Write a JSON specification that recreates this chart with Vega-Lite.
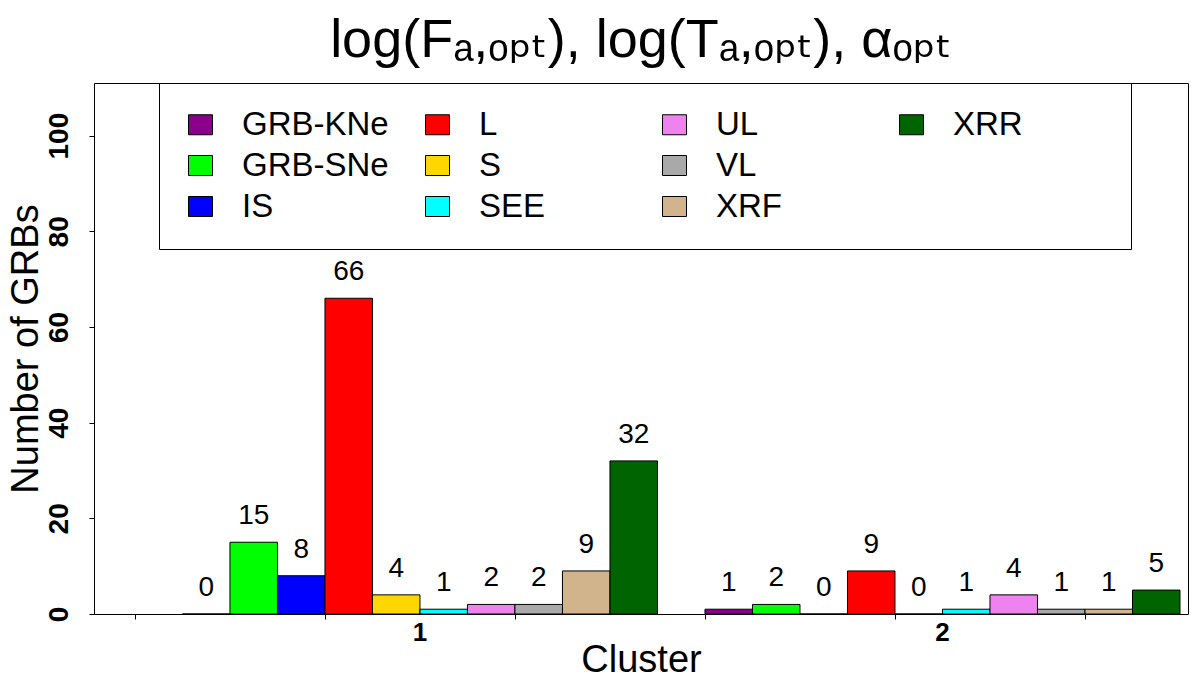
{
  "$schema": "https://vega.github.io/schema/vega-lite/v6.json",
  "width": 1094,
  "height": 531,
  "autosize": {"type": "none"},
  "padding": {"left": 94, "top": 83, "right": 12, "bottom": 66},
  "title": {
    "text": "log(Fₐ,ₒₚₜ), log(Tₐ,ₒₚₜ), αₒₚₜ",
    "font": "Liberation Sans, DejaVu Sans",
    "fontSize": 54,
    "fontWeight": "normal",
    "color": "black",
    "anchor": "middle",
    "offset": 15
  },
  "data": {
    "values": [
      {"cluster": "1", "type": "GRB-KNe", "n": 0},
      {"cluster": "1", "type": "GRB-SNe", "n": 15},
      {"cluster": "1", "type": "IS", "n": 8},
      {"cluster": "1", "type": "L", "n": 66},
      {"cluster": "1", "type": "S", "n": 4},
      {"cluster": "1", "type": "SEE", "n": 1},
      {"cluster": "1", "type": "UL", "n": 2},
      {"cluster": "1", "type": "VL", "n": 2},
      {"cluster": "1", "type": "XRF", "n": 9},
      {"cluster": "1", "type": "XRR", "n": 32},
      {"cluster": "2", "type": "GRB-KNe", "n": 1},
      {"cluster": "2", "type": "GRB-SNe", "n": 2},
      {"cluster": "2", "type": "IS", "n": 0},
      {"cluster": "2", "type": "L", "n": 9},
      {"cluster": "2", "type": "S", "n": 0},
      {"cluster": "2", "type": "SEE", "n": 1},
      {"cluster": "2", "type": "UL", "n": 4},
      {"cluster": "2", "type": "VL", "n": 1},
      {"cluster": "2", "type": "XRF", "n": 1},
      {"cluster": "2", "type": "XRR", "n": 5}
    ]
  },
  "layer": [
    {
      "encoding": {
        "x": {
          "field": "cluster",
          "type": "nominal",
          "scale": {"domain": ["1", "2"], "paddingInner": 0.0909, "paddingOuter": 0.0923, "align": 0.917},
          "axis": {
            "orient": "bottom",
            "ticks": false,
            "domain": false,
            "labelAngle": 0,
            "labelFontSize": 26,
            "labelFontWeight": "bold",
            "labelColor": "black",
            "labelPadding": 5,
            "title": "Cluster",
            "titleFontSize": 38,
            "titleFontWeight": "normal",
            "titleColor": "black",
            "titlePadding": -4
          }
        },
        "xOffset": {
          "field": "type",
          "type": "nominal",
          "scale": {
            "domain": ["GRB-KNe", "GRB-SNe", "IS", "L", "S", "SEE", "UL", "VL", "XRF", "XRR"],
            "paddingInner": 0,
            "paddingOuter": 0
          }
        },
        "y": {
          "field": "n",
          "type": "quantitative",
          "scale": {"domain": [0, 111], "nice": false},
          "axis": {
            "values": [0, 20, 40, 60, 80, 100],
            "grid": false,
            "domain": false,
            "tickSize": 5,
            "tickColor": "black",
            "labelAngle": -90,
            "labelFontSize": 28,
            "labelFontWeight": "bold",
            "labelColor": "black",
            "labelPadding": 16,
            "title": "Number of GRBs",
            "titleFontSize": 38,
            "titleFontWeight": "normal",
            "titleColor": "black",
            "titlePadding": 0
          }
        }
      },
      "layer": [
        {
          "mark": {"type": "bar", "stroke": "black", "strokeWidth": 1},
          "encoding": {
            "color": {
              "field": "type",
              "type": "nominal",
              "scale": {
                "domain": ["GRB-KNe", "L", "UL", "XRR", "GRB-SNe", "S", "VL", "", "IS", "SEE", "XRF"],
                "range": ["#8B008B", "#FF0000", "#EE82EE", "#006400", "#00FF00", "#FFD700", "#A9A9A9", "transparent", "#0000FF", "#00FFFF", "#D2B48C"]
              },
              "legend": {
                "orient": "none",
                "legendX": 65,
                "legendY": 0,
                "title": "XRR",
                "titleOrient": "right",
                "titleOpacity": 0,
                "titleFontSize": 33,
                "titleFontWeight": "normal",
                "titlePadding": 13,
                "columns": 4,
                "direction": "horizontal",
                "gridAlign": "all",
                "symbolType": "M-1.2,-1H1.2V1H-1.2Z",
                "symbolSize": 400,
                "symbolStrokeColor": "black",
                "symbolStrokeWidth": 1,
                "symbolOpacity": 1,
                "labelFontSize": 33,
                "labelColor": "black",
                "labelLimit": 400,
                "labelOffset": 25,
                "columnPadding": 32,
                "rowPadding": 7,
                "padding": 25,
                "strokeColor": "black",
                "fillColor": "white",
                "encode": {
                  "symbols": {
                    "update": {"stroke": {"signal": "datum.value === '' ? 'transparent' : 'black'"}}
                  }
                }
              }
            }
          }
        },
        {
          "mark": {"type": "text", "baseline": "alphabetic", "dy": -18, "fontSize": 28, "color": "black"},
          "encoding": {"text": {"field": "n", "type": "quantitative"}}
        }
      ]
    },
    {
      "mark": {"type": "rule", "opacity": 0},
      "encoding": {
        "x": {
          "datum": 0,
          "type": "quantitative",
          "scale": {"domain": [-0.863, 22.168], "nice": false, "zero": false},
          "axis": {
            "orient": "bottom",
            "values": [0, 4, 8, 12, 16, 20],
            "labels": false,
            "domain": false,
            "grid": false,
            "tickSize": 5,
            "tickColor": "black",
            "title": null
          }
        }
      }
    }
  ],
  "resolve": {"scale": {"x": "independent"}, "axis": {"x": "independent"}},
  "config": {
    "font": "Liberation Sans",
    "view": {"stroke": "black", "strokeWidth": 1}
  }
}
